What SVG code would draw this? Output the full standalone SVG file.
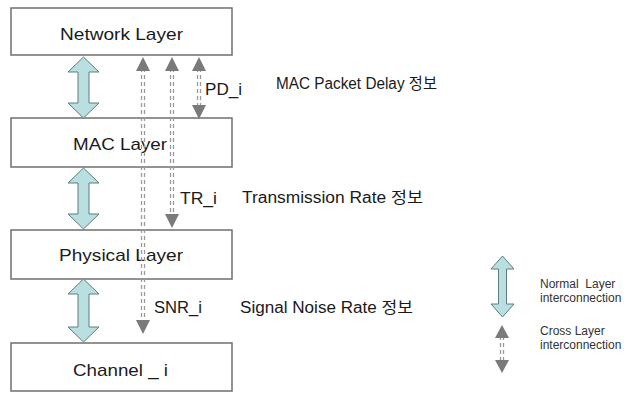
<svg xmlns="http://www.w3.org/2000/svg" width="635" height="397" viewBox="0 0 635 397">
<style>
.box{fill:#fff;stroke:#6f6f6f;stroke-width:1.5}
.lbl{font-family:"Liberation Sans",Arial,sans-serif;font-size:17px;fill:#1a1a1a}
.note{font-family:"Liberation Sans",Arial,"Noto Sans CJK KR",sans-serif;font-size:16px;fill:#1a1a1a}
.leg{font-family:"Liberation Sans",Arial,sans-serif;font-size:12px;fill:#333;white-space:pre}
.big{fill:#b9dfe1;stroke:#5e7d7f;stroke-width:1}
.dash{stroke:#9a9a9a;stroke-width:1.3;stroke-dasharray:4 3;fill:none}
.head{fill:#7a7a7a}
</style>
<rect width="635" height="397" fill="#fff"/>
<g id="network"><rect class="box" x="11" y="8" width="221" height="47"/><text class="lbl" x="60" y="40" textLength="123" lengthAdjust="spacingAndGlyphs">Network Layer</text></g>
<g id="mac"><rect class="box" x="11" y="118" width="221" height="49"/><text class="lbl" x="73" y="150" textLength="94" lengthAdjust="spacingAndGlyphs">MAC Layer</text></g>
<g id="physical"><rect class="box" x="11" y="230" width="221" height="49"/><text class="lbl" x="59" y="261" textLength="124" lengthAdjust="spacingAndGlyphs">Physical Layer</text></g>
<g id="channel"><rect class="box" x="11" y="343" width="221" height="48"/><text class="lbl" x="73" y="376" textLength="95" lengthAdjust="spacingAndGlyphs">Channel _ i</text></g>
<g id="connectors">
<polygon class="big" points="83.5,57 99,72 89,72 89,103 99,103 83.5,118 68,103 78,103 78,72 68,72"/>
<polygon class="big" points="83.5,168 99,183 89,183 89,214 99,214 83.5,229 68,214 78,214 78,183 68,183"/>
<polygon class="big" points="83.5,279 99,294 89,294 89,327 99,327 83.5,342 68,327 78,327 78,294 68,294"/>
<g>
<line class="dash" x1="141.5" y1="68" x2="141.5" y2="324"/><line class="dash" x1="144.5" y1="68" x2="144.5" y2="324"/>
<polygon class="head" points="143,57 150,71 136,71"/><polygon class="head" points="143,334 150,320 136,320"/>
</g>
<g>
<line class="dash" x1="170.5" y1="68" x2="170.5" y2="218"/><line class="dash" x1="173.5" y1="68" x2="173.5" y2="218"/>
<polygon class="head" points="172,57 179,71 165,71"/><polygon class="head" points="172,228 179,214 165,214"/>
</g>
<g>
<line class="dash" x1="197.5" y1="68" x2="197.5" y2="108"/><line class="dash" x1="200.5" y1="68" x2="200.5" y2="108"/>
<polygon class="head" points="199,57 206,71 192,71"/><polygon class="head" points="199,119 206,105 192,105"/>
</g>
</g>
<g id="labels">
<text class="note" x="205" y="95" textLength="37" lengthAdjust="spacingAndGlyphs">PD_i</text>
<text class="note" x="276" y="89" textLength="161" lengthAdjust="spacingAndGlyphs">MAC Packet Delay 정보</text>
<text class="note" x="180" y="204" textLength="37" lengthAdjust="spacingAndGlyphs">TR_i</text>
<text class="note" x="242" y="203" textLength="181" lengthAdjust="spacingAndGlyphs">Transmission Rate 정보</text>
<text class="note" x="154" y="313" textLength="48" lengthAdjust="spacingAndGlyphs">SNR_i</text>
<text class="note" x="240" y="313" textLength="173" lengthAdjust="spacingAndGlyphs">Signal Noise Rate 정보</text>
</g>
<g id="legend">
<polygon class="big" points="502.5,256 514,269 506.5,269 506.5,304 514,304 502.5,317 491,304 498.5,304 498.5,269 491,269"/>
<text class="leg" x="540" y="288">Normal  Layer</text>
<text class="leg" x="540" y="302">interconnection</text>
<line class="dash" x1="500.5" y1="336" x2="500.5" y2="362"/><line class="dash" x1="503.5" y1="336" x2="503.5" y2="362"/>
<polygon class="head" points="502,325 509,338 495,338"/><polygon class="head" points="502,373 509,360 495,360"/>
<text class="leg" x="540" y="335">Cross Layer</text>
<text class="leg" x="540" y="349">interconnection</text>
</g>
</svg>
